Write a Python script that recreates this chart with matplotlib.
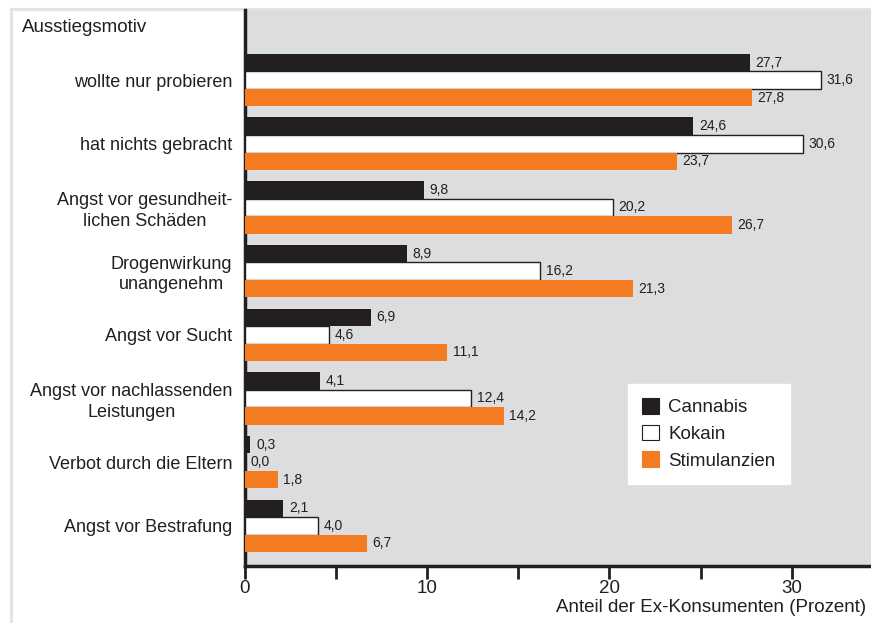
import matplotlib
matplotlib.use("Agg")
import matplotlib.pyplot as plt
from matplotlib.lines import Line2D
from matplotlib.patches import Patch
import numpy as np

plt.rcParams['font.family'] = ['Liberation Sans', 'DejaVu Sans']

categories = ["wollte nur probieren", "hat nichts gebracht",
              "Angst vor gesundheit-\nlichen Schäden", "Drogenwirkung\nunangenehm",
              "Angst vor Sucht", "Angst vor nachlassenden\nLeistungen",
              "Verbot durch die Eltern", "Angst vor Bestrafung"]
cannabis = [27.7, 24.6, 9.8, 8.9, 6.9, 4.1, 0.3, 2.1]
kokain = [31.6, 30.6, 20.2, 16.2, 4.6, 12.4, 0.0, 4.0]
stimulanzien = [27.8, 23.7, 26.7, 21.3, 11.1, 14.2, 1.8, 6.7]
series_names = ["Cannabis", "Kokain", "Stimulanzien"]
xticks = [0, 10, 20, 30]

BLACK = "#231f20"
ORANGE = "#f47c20"
BG = "#dcdddf"
FRAME = "#e4e4e4"
FS = 13.5

fig = plt.figure(figsize=(8.71, 6.23), dpi=100)
fig.patch.set_facecolor("white")
ax = fig.add_axes([245/871, 1-566/623, 1-245/871, (566-10)/623])
ax.set_facecolor(BG)

n = len(categories)
ypos = np.arange(n)[::-1].astype(float)
h = 0.275
series = [cannabis, kokain, stimulanzien]
styles = [dict(color=BLACK, edgecolor=BLACK, linewidth=0),
          dict(color="white", edgecolor=BLACK, linewidth=1.0),
          dict(color=ORANGE, edgecolor=ORANGE, linewidth=0)]
offsets = [h, 0, -h]
for vals, st, off in zip(series, styles, offsets):
    ax.barh(ypos + off, vals, height=h, **st, zorder=3)
    for y, v in zip(ypos + off, vals):
        ax.annotate(f"{v:.1f}".replace(".", ","), (v, y), xytext=(4, 0),
                    textcoords="offset points", va="center", ha="left",
                    fontsize=10, color=BLACK)

ax.set_xlim(0, 34.35)
ax.set_ylim(-0.63, n - 1 + 1.1)

ax.set_yticks(ypos)
ax.set_yticklabels(categories, fontsize=13, color=BLACK, ha="right",
                   multialignment="center", linespacing=1.25)
ax.tick_params(axis="y", length=0, pad=9)
ax.set_xticks(xticks)
ax.set_xticks([5, 15, 25], minor=True)
ax.set_xticklabels([str(t) for t in xticks], fontsize=FS, color=BLACK)
ax.tick_params(axis="x", which="both", direction="out", length=9, width=2,
               color=BLACK, pad=1)

for s in ["top", "right"]:
    ax.spines[s].set_visible(False)
for s in ["left", "bottom"]:
    ax.spines[s].set_linewidth(2.5)
    ax.spines[s].set_color(BLACK)

fig.text(22/871, 1-28/623, "Ausstiegsmotiv", fontsize=FS, color=BLACK,
         ha="left", va="center")
fig.text(866/871, 1-607/623, "Anteil der Ex-Konsumenten (Prozent)",
         fontsize=FS, color=BLACK, ha="right", va="center")

# light frame lines
fig.add_artist(Line2D([10.5/871, 1], [1-9/623, 1-9/623], color=FRAME, lw=2.2,
                      transform=fig.transFigure, zorder=0))
fig.add_artist(Line2D([10.5/871, 10.5/871], [0, 1-9/623], color=FRAME, lw=2.2,
                      transform=fig.transFigure, zorder=0))

handles = [Patch(facecolor=BLACK, edgecolor=BLACK, linewidth=0.8),
           Patch(facecolor="white", edgecolor=BLACK, linewidth=0.8),
           Patch(facecolor=ORANGE, edgecolor=ORANGE, linewidth=0.8)]
leg = ax.legend(handles, series_names, loc="upper left",
                bbox_to_anchor=((628-245)/626, 1-(384-10)/556),
                frameon=True, fancybox=False, framealpha=1, edgecolor="white",
                facecolor="white", fontsize=FS, handlelength=0.9, handleheight=0.9,
                handletextpad=0.5, labelspacing=0.45, borderpad=0.75,
                borderaxespad=0)
for t in leg.get_texts():
    t.set_color(BLACK)

fig.savefig("out.png", dpi=100)
